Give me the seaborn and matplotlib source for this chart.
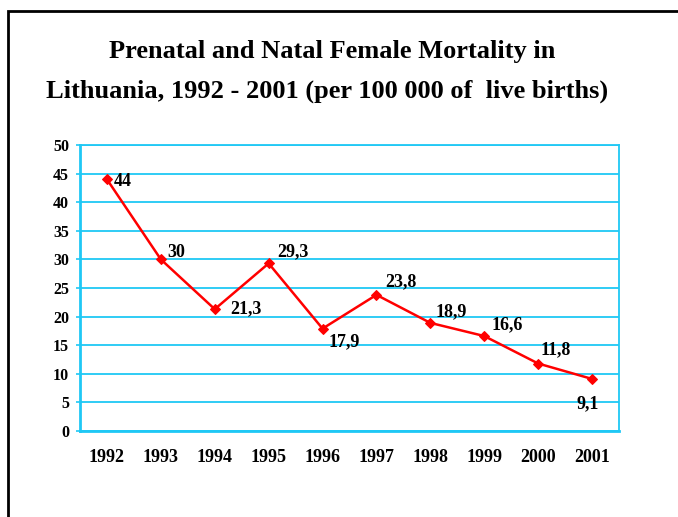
import matplotlib
matplotlib.use("Agg")
import matplotlib.pyplot as plt
import seaborn as sns
import numpy as np
import pandas as pd
from matplotlib.patches import Rectangle

years = ["1992", "1993", "1994", "1995", "1996", "1997", "1998", "1999", "2000", "2001"]
values = [44, 30, 21.3, 29.3, 17.9, 23.8, 18.9, 16.6, 11.8, 9.1]
labels = ["44", "30", "21,3", "29,3", "17,9", "23,8", "18,9", "16,6", "11,8", "9,1"]
yticks = [0, 5, 10, 15, 20, 25, 30, 35, 40, 45, 50]

title_line1 = "Prenatal and Natal Female Mortality in"
title_line2 = "Lithuania, 1992 - 2001 (per 100 000 of  live births)"

sns.set_theme(style="white")
plt.rcParams["font.family"] = ["Liberation Serif", "DejaVu Serif"]
plt.rcParams["text.color"] = "black"

CYAN = "#1FC8F5"
RED = "#FF0000"

fig = plt.figure(figsize=(6.78, 5.17), dpi=100)
ax = fig.add_axes([80/678, 1-431/517, (619-80)/678, (431-145)/517])

df = pd.DataFrame({"pos": np.arange(len(years)), "value": values})
sns.lineplot(data=df, x="pos", y="value", ax=ax, color=RED, linewidth=1.8,
             marker="D", markersize=5.5, markeredgecolor=RED, markerfacecolor=RED)

ax.set_xlim(-0.5, len(years) - 0.5)
ax.set_ylim(0, 50)
ax.set_yticks(yticks)
ax.set_yticklabels([str(v) for v in yticks], fontsize=11.5, fontweight="bold")
ax.set_xticks(np.arange(len(years)))
ax.set_xticklabels(years, fontsize=13, fontweight="bold")
ax.set_xticks(np.arange(len(years) + 1) - 0.5, minor=True)
ax.tick_params(axis="x", which="major", length=0, pad=13, labelcolor="black")
ax.tick_params(axis="x", which="minor", length=5, width=1.2, color=CYAN, direction="out")
ax.tick_params(axis="y", which="major", length=3, width=1.2, color=CYAN, direction="out",
               pad=5, left=True, labelcolor="black")
ax.set_xlabel("")
ax.set_ylabel("")

ax.grid(axis="y", color=CYAN, linewidth=1.3)
ax.grid(axis="x", visible=False)
ax.set_axisbelow(True)
for side, sp in ax.spines.items():
    sp.set_color(CYAN)
    sp.set_linewidth(1.3)
ax.spines["left"].set_linewidth(2)
ax.spines["bottom"].set_linewidth(2)

offsets = [(5, -5), (5, 2), (11, -3), (6, 5), (4.5, -13), (6, 6), (3.5, 5), (5, 5), (2, 6.5), (-3, -21)]
aligns = ["left"] * 9 + ["center"]
for i, (v, lab) in enumerate(zip(values, labels)):
    ax.annotate(lab, (i, v), xytext=offsets[i], textcoords="offset points",
                ha=aligns[i], va="baseline", fontsize=13, fontweight="bold", color="black")

fig.text(0.49, 1-58/517, title_line1, ha="center", va="baseline",
         fontsize=19, fontweight="bold")
fig.text(0.483, 1-98/517, title_line2, ha="center", va="baseline",
         fontsize=19, fontweight="bold")

fig.add_artist(Rectangle((8/678, -0.2), 2.0, 1.2 - 11/517, transform=fig.transFigure,
                         fill=False, edgecolor="black", linewidth=2))

fig.savefig("out.png", dpi=100, facecolor="white")
